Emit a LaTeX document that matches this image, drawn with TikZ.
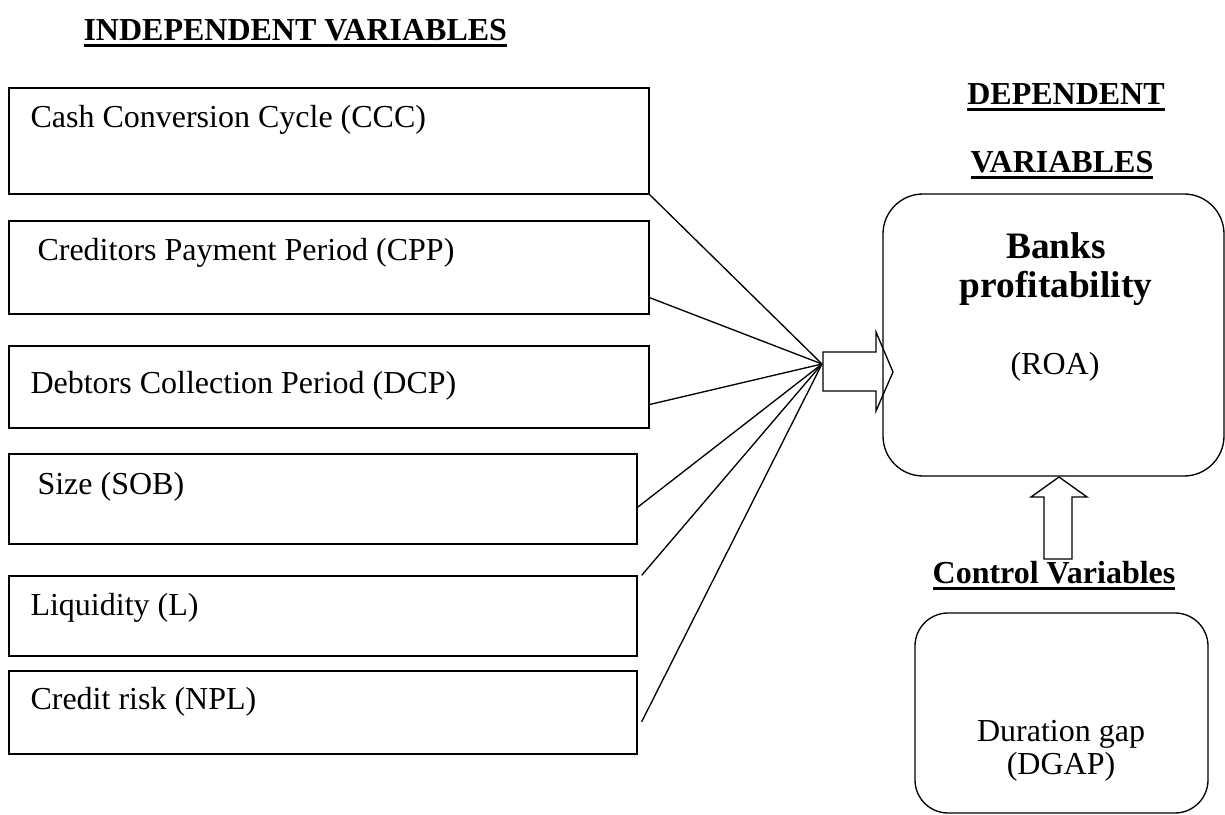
\documentclass[tikz,border=0pt]{standalone}
\usepackage{fontspec}
\setmainfont{Liberation Serif}
\usetikzlibrary{positioning, fit, calc}
\tikzstyle{ivbox} = [rectangle, draw=black, line width=0.5pt, inner sep=0pt]
\tikzstyle{dvbox} = [rectangle, rounded corners=15pt, draw=black, line width=0.5pt, inner sep=0pt]
\tikzstyle{cvbox} = [rectangle, rounded corners=12.4pt, draw=black, line width=0.5pt, inner sep=0pt]
\tikzstyle{ivtext} = [anchor=base west, inner sep=0pt, font=\fontsize{12pt}{14pt}\selectfont]
\tikzstyle{ctext} = [anchor=base, inner sep=0pt, font=\fontsize{12pt}{14pt}\selectfont]
\tikzstyle{heading} = [anchor=base, inner sep=0pt, font=\fontsize{12pt}{14pt}\selectfont\bfseries]
\tikzstyle{bigtitle} = [anchor=base, inner sep=0pt, font=\fontsize{14pt}{16pt}\selectfont\bfseries]
\tikzstyle{link} = [line width=0.5pt]
\tikzstyle{blockarrow} = [line width=0.5pt, draw=black]
\newcommand{\headul}[1]{\setbox0\hbox{#1}\rlap{\rule[-2.2pt]{\wd0}{0.9pt}}\box0}

\begin{document}
\begin{tikzpicture}[x=0.375pt, y=-0.375pt]
\useasboundingbox (0,0) rectangle (1225,815);

% independent variables
\node (ivhead) [heading, anchor=base west] at (83,41) {\headul{INDEPENDENT VARIABLES}};
\node (ccc) [ivbox, fit={(9,88) (649,194)}] {};
\node (cpp) [ivbox, fit={(9,221) (649,314)}] {};
\node (dcp) [ivbox, fit={(9,346) (649,428)}] {};
\node (sob) [ivbox, fit={(9,454) (637,544)}] {};
\node (liq) [ivbox, fit={(9,576) (637,656)}] {};
\node (npl) [ivbox, fit={(9,671) (637,754)}] {};
\node (ccc text) [ivtext] at (30,128) {Cash Conversion Cycle (CCC)};
\node (cpp text) [ivtext] at (37,261) {Creditors Payment Period (CPP)};
\node (dcp text) [ivtext] at (30,394) {Debtors Collection Period (DCP)};
\node (sob text) [ivtext] at (37,495) {Size (SOB)};
\node (liq text) [ivtext] at (30,616) {Liquidity (L)};
\node (npl text) [ivtext] at (30,710) {Credit risk (NPL)};

% dependent variable
\node (dvhead1) [heading] at (1066,105) {\headul{DEPENDENT}};
\node (dvhead2) [heading] at (1062,173) {\headul{VARIABLES}};
\node (roa) [dvbox, fit={(883,194) (1224,476)}] {};
\node (roa title1) [bigtitle] at (1056,259) {Banks};
\node (roa title2) [bigtitle] at (1056,298) {profitability};
\node (roa code) [ctext] at (1055,375) {(ROA)};

% control variable
\draw [blockarrow] (1044,559) -- (1044,497) -- (1031,497) -- (1059,477) -- (1087,497) -- (1072,497) -- (1072,559) -- cycle;
\node (cvhead) [heading] at (1054,584) {\headul{Control Variables}};
\node (dgap) [cvbox, fit={(915,613) (1208,813)}] {};
\node (dgap text1) [ctext] at (1061,742) {Duration gap};
\node (dgap text2) [ctext] at (1061,775) {(DGAP)};

% links
\coordinate (hub) at (822,364);
\draw [link] (ccc.south east) -- (hub);
\draw [link] ($(cpp.south east)!0.18!(cpp.north east)$) -- (hub);
\draw [link] ($(dcp.south east)!0.29!(dcp.north east)$) -- (hub);
\draw [link] ($(sob.south east)!0.41!(sob.north east)$) -- (hub);
\draw [link] ([xshift=1.5pt]liq.north east) -- (hub);
\draw [link] ([xshift=1.5pt]$(npl.south east)!0.39!(npl.north east)$) -- (hub);
\draw [blockarrow] (823,352) -- (876,352) -- (876,332) -- (893,372) -- (876,411) -- (876,391) -- (823,391) -- cycle;
\end{tikzpicture}
\end{document}
